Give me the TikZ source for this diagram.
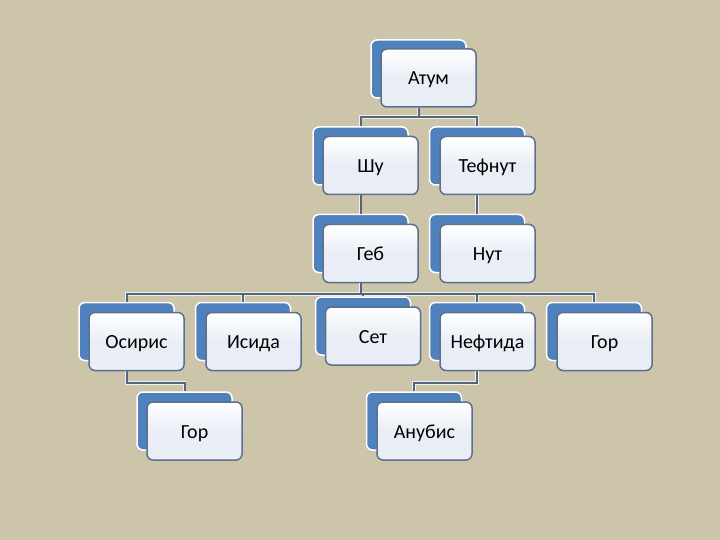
\documentclass[tikz,border=0pt]{standalone}
\usepackage{fontspec}
\setmainfont{Carlito}
\usepackage{xcolor}
\usepackage{tikz}
\usetikzlibrary{positioning}

\definecolor{bgtan}{RGB}{204,197,170}
\definecolor{boxblue}{RGB}{79,129,189}
\definecolor{boxedge}{RGB}{92,112,142}
\definecolor{boxfill}{RGB}{233,238,246}
\definecolor{linkgray}{RGB}{82,102,130}

\begin{document}
\begin{tikzpicture}[
  x=1pt, y=-1pt,
  back/.style  = {rectangle, rounded corners=6pt, draw=white, line width=1.5pt, fill=boxblue,
                  minimum width=95pt, minimum height=58pt, inner sep=0pt},
  front/.style = {rectangle, rounded corners=6pt, draw=boxedge, line width=1.5pt,
                  top color=white, bottom color=boxfill, middle color=boxfill,
                  minimum width=95pt, minimum height=58pt, inner sep=0pt,
                  text height=15pt, text depth=1pt,
                  font=\fontsize{20}{22}\selectfont},
  link/.style  = {draw=linkgray, line width=2pt,
                  preaction={draw=white!75!bgtan, line width=3.6pt}}
]

\fill[bgtan] (0,0) rectangle (720,540);

% top levels
\node[back]  (atumB) at (418.5,69)  {};
\node[front] (atum)  at (428.5,78)  {Атум};
\node[back]  (shuB)  at (360.5,156) {};
\node[front] (shu)   at (370.5,165.5) {Шу};
\node[back]  (tefB)  at (477,156)   {};
\node[front] (tef)   at (487.5,165.5) {Тефнут};
\node[back]  (gebB)  at (360.5,243.5) {};
\node[front] (geb)   at (370.5,253.5) {Геб};
\node[back]  (nutB)  at (477,243.5) {};
\node[front] (nut)   at (487.5,253.5) {Нут};

% children of Geb
\node[back]  (osB)   at (126.5,331.5) {};
\node[front] (os)    at (136.5,341.5) {Осирис};
\node[back]  (isB)   at (243,331.5) {};
\node[front] (is)    at (253.5,341.5) {Исида};
\node[back]  (setB)  at (363,326)   {};
\node[front] (set)   at (373,336)   {Сет};
\node[back]  (nefB)  at (477,331.5) {};
\node[front] (nef)   at (487.5,341.5) {Нефтида};
\node[back]  (horAB) at (594,331.5) {};
\node[front] (horA)  at (604.5,341.5) {Гор};

% last row
\node[back]  (horBB) at (184.5,421) {};
\node[front] (horB)  at (194.5,431) {Гор};
\node[back]  (anuB)  at (414,421)   {};
\node[front] (anu)   at (424.5,431) {Анубис};

% connectors
\draw[link] (atumB |- atum.south) -- (atumB |- 0,117)
            (shuB.north) |- (tefB |- 0,117) -- (tefB.north);
\draw[link] (shuB |- shu.south) -- (gebB.north);
\draw[link] (tefB |- tef.south) -- (nutB.north);
\draw[link] (gebB |- geb.south) -- (gebB |- 0,294)
            (osB.north) |- (horAB |- 0,294) -- (horAB.north)
            (isB.north) -- (isB |- 0,294)
            (setB.north) -- (setB |- 0,294)
            (nefB.north) -- (nefB |- 0,294);
\draw[link] (osB |- os.south) -- (osB |- 0,383) -| (horBB.north);
\draw[link] (nefB |- nef.south) -- (nefB |- 0,383) -| (anuB.north);

\end{tikzpicture}
\end{document}
